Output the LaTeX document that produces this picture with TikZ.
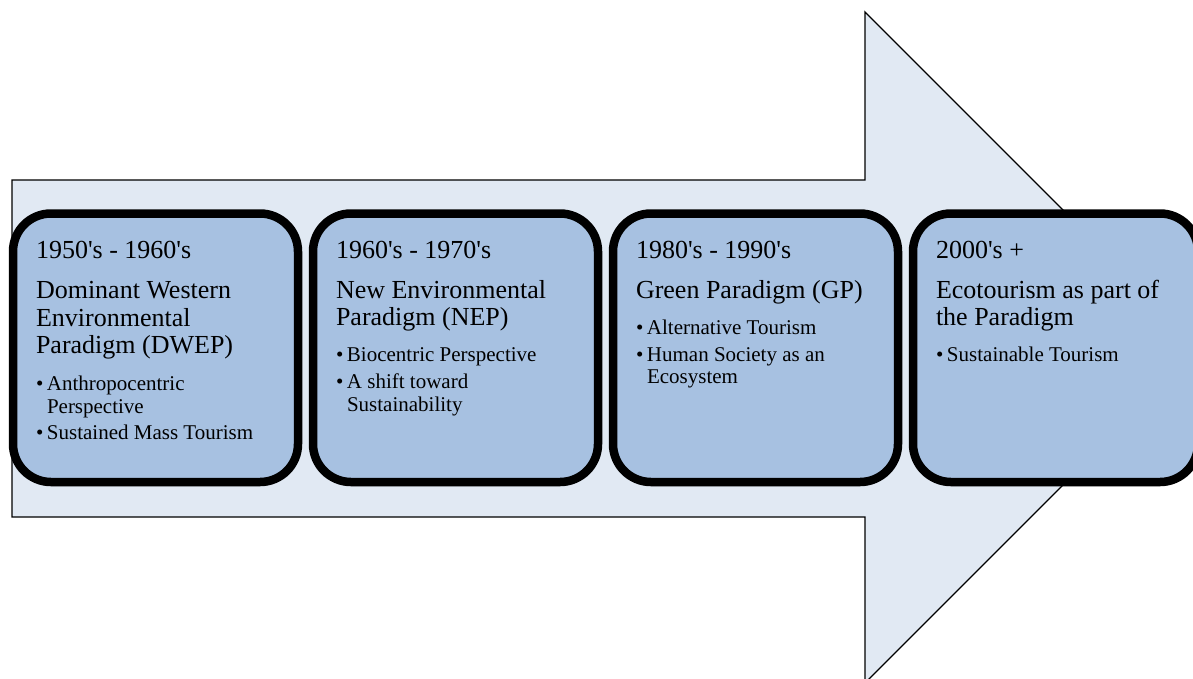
\documentclass[tikz,border=0pt]{standalone}
\usepackage{fontspec}
\setmainfont{Liberation Serif}[Ligatures=TeXOff]
\usetikzlibrary{shadows}
\definecolor{arrowfill}{RGB}{225,233,243}
\definecolor{boxfill}{RGB}{167,193,225}
\tikzset{
  arrowshape/.style={draw=black, line width=1.3pt, fill=arrowfill, line join=miter},
  era/.style={draw=black, line width=8.5pt, fill=boxfill, rounded corners=38pt,
    minimum width=285pt, minimum height=268.5pt, inner sep=0pt,
    drop shadow={shadow xshift=0pt, shadow yshift=-4pt, opacity=0.35, fill=black!70}},
  txt/.style={inner sep=0pt, outer sep=0pt, anchor=base west},
  head/.style={txt, font=\fontsize{26}{29}\selectfont},
  item/.style={txt, font=\fontsize{21}{23.5}\selectfont},
}
\newcommand{\bul}{\makebox[11pt][l]{•}}
\begin{document}
\begin{tikzpicture}[x=1pt,y=-1pt]
\path[use as bounding box] (0,0) rectangle (1193,678);
\clip (0,0) rectangle (1193,678);
% big arrow
\draw[arrowshape] (12,180) -- (865,180) -- (865,12) -- (1200.5,347.5) -- (865,683) -- (865,517) -- (12,517) -- cycle;
% boxes
\node[era] (box1) at (155.5,347.75) {};
\node[era] (box2) at (455.5,347.75) {};
\node[era] (box3) at (755.5,347.75) {};
\node[era] (box4) at (1055.5,347.75) {};
% box 1
\node[head] (h1) at (36,258) {1950's - 1960's};
\node[head] (t1a) at (36,298) {Dominant Western};
\node[head] (t1b) at (36,326) {Environmental};
\node[head] (t1c) at (36,353) {Paradigm (DWEP)};
\node[item] (i1a) at (36,390) {\bul Anthropocentric};
\node[item] (i1b) at (47,413) {Perspective};
\node[item] (i1c) at (36,439) {\bul Sustained Mass Tourism};
% box 2
\node[head] (h2) at (336,258) {1960's - 1970's};
\node[head] (t2a) at (336,298) {New Environmental};
\node[head] (t2b) at (336,325) {Paradigm (NEP)};
\node[item] (i2a) at (336,361) {\bul Biocentric Perspective};
\node[item] (i2b) at (336,388) {\bul A shift toward};
\node[item] (i2c) at (347,411) {Sustainability};
% box 3
\node[head] (h3) at (636,258) {1980's - 1990's};
\node[head] (t3a) at (636,298) {Green Paradigm (GP)};
\node[item] (i3a) at (636,334) {\bul Alternative Tourism};
\node[item] (i3b) at (636,361) {\bul Human Society as an};
\node[item] (i3c) at (647,383) {Ecosystem};
% box 4
\node[head] (h4) at (936,258) {2000's +};
\node[head] (t4a) at (936,298) {Ecotourism as part of};
\node[head] (t4b) at (936,325) {the Paradigm};
\node[item] (i4a) at (936,361) {\bul Sustainable Tourism};
\end{tikzpicture}
\end{document}
